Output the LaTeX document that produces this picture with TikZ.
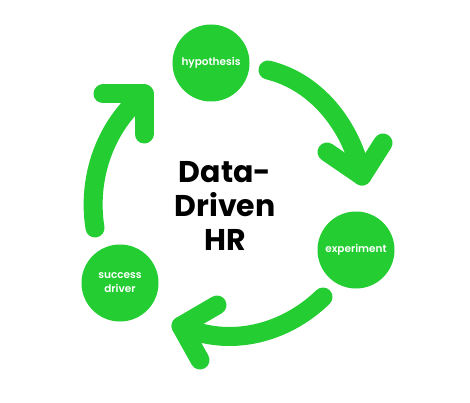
\documentclass[tikz,border=0pt]{standalone}
\usepackage{fontspec}
\setmainfont{Poppins}
\newfontfamily\semib{Poppins SemiBold}
\definecolor{grn}{RGB}{35,205,50}
\tikzset{
  circ/.style={circle, fill=grn, minimum size=77pt, inner sep=0pt, text=white, font=\semib\fontsize{10.5}{14}\selectfont, align=center},
  shaft/.style={draw=grn, line width=19pt, line cap=round},
  chev/.style={draw=grn, line width=19pt, line cap=round, line join=round},
  title/.style={font=\bfseries\fontsize{30}{34}\selectfont, align=center, text=black}
}
\begin{document}
\begin{tikzpicture}[x=1pt,y=-1pt]
\useasboundingbox (0,0) rectangle (470,403);
% arrow 1
\coordinate (s1) at (268,70);
\coordinate (t1) at (362,176);
\coordinate (a1) at (327,152);
\coordinate (b1) at (383,143);
\draw[shaft] (s1) .. controls (317,82) and (351,126) .. (t1);
\draw[chev] (a1) -- (t1) -- (b1);
% arrow 2
\coordinate (s2) at (323,297);
\coordinate (t2) at (181,326);
\coordinate (a2) at (217,305);
\coordinate (b2) at (200,360);
\draw[shaft] (s2) .. controls (285,334) and (229,348) .. (t2);
\draw[chev] (a2) -- (t2) -- (b2);
% arrow 3
\coordinate (s3) at (95,228);
\coordinate (t3) at (144,94);
\coordinate (a3) at (103,94);
\coordinate (b3) at (144,134);
\draw[shaft] (s3) .. controls (87,178) and (105,126) .. (t3);
\draw[chev] (a3) -- (t3) -- (b3);
% circles
\node[circ] (hyp) at (211,63) {hypothesis};
\node[circ] (exp) at (356,250) {experiment};
\node[circ] (suc) at (120,283) {success\\driver};
\node[title] (ttl) at (225,206) {Data-\\Driven\\HR};
\end{tikzpicture}
\end{document}
